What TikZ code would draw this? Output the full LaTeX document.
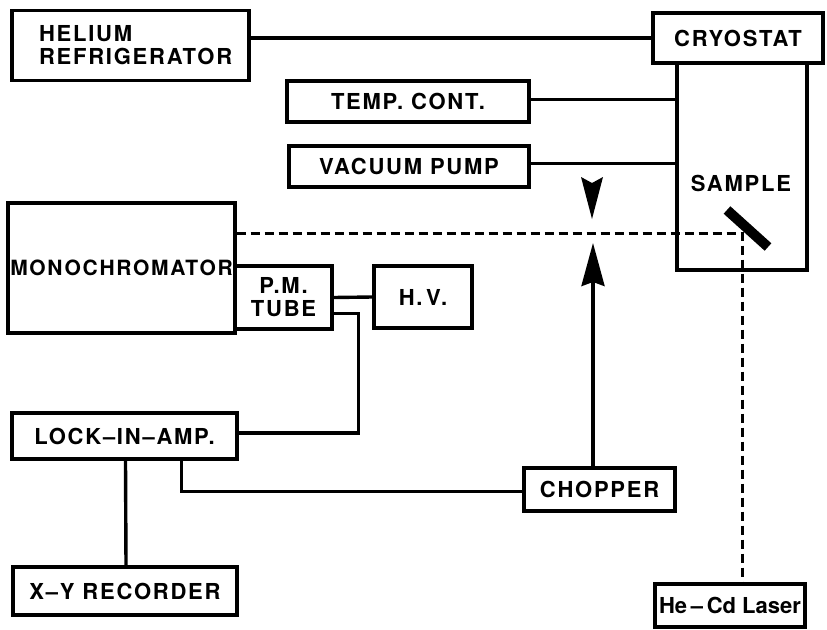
\documentclass[tikz,border=0pt]{standalone}
\usepackage{fontspec}
\setmainfont{TeX Gyre Heros}
\newfontfamily\spacedfont[LetterSpace=8]{TeX Gyre Heros}
\usepackage{tikz}
\usetikzlibrary{arrows.meta,calc}
\tikzset{>={Stealth[length=43pt,width=23pt,inset=4pt]}}
\tikzset{
  unit/.style={draw,line width=3.2pt,inner sep=0pt,align=center,
    font=\spacedfont\bfseries\fontsize{22}{23}\selectfont},
  wire/.style={line width=3.4pt},
  beam/.style={line width=3pt,dash pattern=on 9pt off 5pt}
}
\begin{document}
\begin{tikzpicture}[x=1pt,y=-1pt]
\useasboundingbox (0,0) rectangle (827,629);
% units
\node[unit,minimum width=237pt,minimum height=70pt,text width=183pt,inner xsep=27pt,align=left]
  (helium) at (130.5,45.5) {HELIUM\\REFRIGERATOR};
\node[unit,minimum width=170pt,minimum height=50pt] (cryohead) at (738,38) {CRYOSTAT};
\node[unit,minimum width=130pt,minimum height=207pt] (cryo) at (742,166.5) {};
\node[font=\spacedfont\bfseries\fontsize{22}{23}\selectfont] (sample) at (741,183) {SAMPLE};
\node[unit,minimum width=242pt,minimum height=41pt] (temp) at (408,101.5) {TEMP. CONT.};
\node[unit,minimum width=240pt,minimum height=41pt] (vacuum) at (409,166.5) {VACUUM PUMP};
\node[unit,minimum width=227pt,minimum height=130pt,font=\spacedfont\bfseries\fontsize{21}{23}\selectfont]
  (mono) at (121.5,268) {MONOCHROMATOR};
\node[unit,minimum width=97pt,minimum height=63pt] (pm) at (283.5,297.5) {P.M.\\TUBE};
\node[unit,minimum width=98pt,minimum height=62pt] (hv) at (423,297) {H.\,V.};
\node[unit,minimum width=225pt,minimum height=46pt] (lockin) at (124.5,436) {LOCK–IN–AMP.};
\node[unit,minimum width=224pt,minimum height=48pt] (recorder) at (125,591) {X–Y RECORDER};
\node[unit,minimum width=151pt,minimum height=43pt] (chopper) at (599.5,489.5) {CHOPPER};
\node[unit,minimum width=150pt,minimum height=43pt,font=\bfseries\fontsize{22}{23}\selectfont]
  (laser) at (730,605.5) {He\,–\,Cd Laser};
\coordinate (tipup) at (593,243);
\coordinate (refl) at (742,233);
% connections
\draw[wire] (helium.east |- cryohead.west) -- (cryohead.west);
\draw[wire] ([yshift=2pt]temp.east) -- ([yshift=2pt]temp.east -| cryo.west);
\draw[wire] ([yshift=3pt]vacuum.east) -- ([yshift=3pt]vacuum.east -| cryo.west);
\draw[wire] (pm.east) -- (hv.west);
\draw[wire] ([yshift=-16pt]pm.east) -- ++(25,0) |- ([yshift=3pt]lockin.east);
\draw[wire] ([xshift=1pt]lockin.south) -- ([xshift=1pt]recorder.north);
\draw[wire] ([xshift=57pt]lockin.south) |- ([yshift=-2pt]chopper.west);
\draw[wire,->] (tipup |- chopper.north) -- (tipup);
\fill (581,177) -- (592,183) -- (603,177) -- (592,219) -- cycle;
% optical path
\draw[beam] (mono.east |- refl) -- (refl) -- (refl |- laser.north);
\draw[line width=10pt] (727,210) -- (768,247);
\end{tikzpicture}
\end{document}
